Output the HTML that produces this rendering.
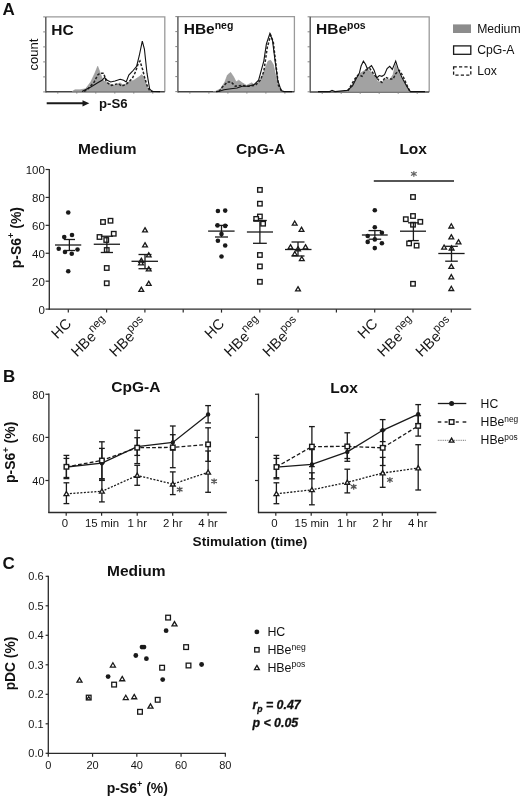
<!DOCTYPE html><html><head><meta charset="utf-8"><style>html,body{margin:0;padding:0;background:#fff;width:520px;height:799px;overflow:hidden}svg{display:block;font-family:"Liberation Sans", sans-serif;will-change:transform}</style></head><body>
<svg width="520" height="799" viewBox="0 0 520 799">
<rect width="520" height="799" fill="#fff"/>
<text x="2.5" y="15" font-size="17" font-weight="bold" text-anchor="start" fill="#111" >A</text>
<text x="2.9" y="381.9" font-size="17" font-weight="bold" text-anchor="start" fill="#111" >B</text>
<text x="2.5" y="568.9" font-size="17" font-weight="bold" text-anchor="start" fill="#111" >C</text>
<path d="M45.8 16.9 H164.8 V91.8" fill="none" stroke="#9a9a9a" stroke-width="1.3"/>
<line x1="45.8" y1="16.9" x2="45.8" y2="92.4" stroke="#555" stroke-width="1.4" />
<line x1="45.8" y1="91.8" x2="164.8" y2="91.8" stroke="#444" stroke-width="1.4" />
<line x1="43.2" y1="16.9" x2="45.8" y2="16.9" stroke="#777" stroke-width="0.9" />
<line x1="43.2" y1="31.9" x2="45.8" y2="31.9" stroke="#777" stroke-width="0.9" />
<line x1="43.2" y1="46.9" x2="45.8" y2="46.9" stroke="#777" stroke-width="0.9" />
<line x1="43.2" y1="61.9" x2="45.8" y2="61.9" stroke="#777" stroke-width="0.9" />
<line x1="43.2" y1="76.9" x2="45.8" y2="76.9" stroke="#777" stroke-width="0.9" />
<line x1="43.2" y1="91.9" x2="45.8" y2="91.9" stroke="#777" stroke-width="0.9" />
<line x1="57.8" y1="91.8" x2="57.8" y2="93.6" stroke="#777" stroke-width="0.9" />
<line x1="76.8" y1="91.8" x2="76.8" y2="93.6" stroke="#777" stroke-width="0.9" />
<line x1="95.8" y1="91.8" x2="95.8" y2="93.6" stroke="#777" stroke-width="0.9" />
<line x1="114.8" y1="91.8" x2="114.8" y2="93.6" stroke="#777" stroke-width="0.9" />
<line x1="133.8" y1="91.8" x2="133.8" y2="93.6" stroke="#777" stroke-width="0.9" />
<line x1="152.8" y1="91.8" x2="152.8" y2="93.6" stroke="#777" stroke-width="0.9" />
<polygon points="72,91.6 75,89.8 80,89.8 85.6,88.8 90.8,81.9 95,73 97.7,66.3 100.3,73.2 102.9,80.2 108,83.6 115,85.4 120,82.8 123.6,85.4 128.8,81.9 134,80.2 139.2,76.7 141.8,74.6 144.4,78.4 147,87 149.6,90.5 152,91.6" fill="#a2a2a2" stroke="#929292" stroke-width="0.6"/>
<polyline points="84,91.4 87.3,89.7 94.2,82 97.7,75 100.3,73.2 103.7,73.2 106.3,82 111.5,85.4 118.4,83.6 121.9,86.2 127,83.6 132.3,78.4 135.7,71.5 138.3,62.9 140,61 142.7,69.8 144.4,76.7 147,85.4 149.6,90.5 153,91.4" fill="none" stroke="#222" stroke-width="1.5" stroke-dasharray="2.6 1.7"/>
<polyline points="82,91.4 90.8,87 97.7,82.8 102,80.2 104.6,77.6 107.2,80.2 110.7,82 115,81 120.2,79.3 123.6,80.2 126.2,82 128.8,75 132.3,71.5 136.6,66.3 139.2,56 142.3,41.2 144.4,49 147,73.2 149.6,88.8 152,91.4 160,91.6" fill="none" stroke="#111" stroke-width="1.1"/>
<text x="51.2" y="35.1" font-size="15.5" font-weight="bold" text-anchor="start" fill="#111" >HC</text>
<path d="M177.9 16.6 H294.4 V91.8" fill="none" stroke="#9a9a9a" stroke-width="1.3"/>
<line x1="177.9" y1="16.6" x2="177.9" y2="92.4" stroke="#555" stroke-width="1.4" />
<line x1="177.9" y1="91.8" x2="294.4" y2="91.8" stroke="#444" stroke-width="1.4" />
<line x1="175.3" y1="16.6" x2="177.9" y2="16.6" stroke="#777" stroke-width="0.9" />
<line x1="175.3" y1="31.6" x2="177.9" y2="31.6" stroke="#777" stroke-width="0.9" />
<line x1="175.3" y1="46.6" x2="177.9" y2="46.6" stroke="#777" stroke-width="0.9" />
<line x1="175.3" y1="61.6" x2="177.9" y2="61.6" stroke="#777" stroke-width="0.9" />
<line x1="175.3" y1="76.6" x2="177.9" y2="76.6" stroke="#777" stroke-width="0.9" />
<line x1="175.3" y1="91.6" x2="177.9" y2="91.6" stroke="#777" stroke-width="0.9" />
<line x1="189.9" y1="91.8" x2="189.9" y2="93.6" stroke="#777" stroke-width="0.9" />
<line x1="208.9" y1="91.8" x2="208.9" y2="93.6" stroke="#777" stroke-width="0.9" />
<line x1="227.9" y1="91.8" x2="227.9" y2="93.6" stroke="#777" stroke-width="0.9" />
<line x1="246.9" y1="91.8" x2="246.9" y2="93.6" stroke="#777" stroke-width="0.9" />
<line x1="265.9" y1="91.8" x2="265.9" y2="93.6" stroke="#777" stroke-width="0.9" />
<line x1="284.9" y1="91.8" x2="284.9" y2="93.6" stroke="#777" stroke-width="0.9" />
<polygon points="213,91.6 215.4,91.4 220.6,88.8 224.9,81.9 227.5,75 230.6,72.4 233.5,76.7 236.1,81.9 238.7,80.2 242.2,82.8 246.5,85.4 251.7,82.8 255.2,85.4 258.6,81.9 262.1,76.7 265.6,67.2 268.1,61.1 270.7,60.3 273.3,64.6 275.9,76.7 278.5,87.1 281.1,91.4 283,91.6" fill="#a2a2a2" stroke="#929292" stroke-width="0.6"/>
<polyline points="219,91.4 222.3,87.1 227.5,81.9 231,81.9 235.3,86.2 241.3,85.4 248.3,86.2 255.2,85.4 260.4,80.2 263.8,71.5 267.3,47.3 270.7,35.2 273.3,42.1 275.9,64.6 278.5,85.4 282,91.4" fill="none" stroke="#222" stroke-width="1.5" stroke-dasharray="2.6 1.7"/>
<polyline points="216,91.6 218.8,91.4 224,89.7 231,88.8 237,88 242.2,86.2 248.3,86.2 254.3,84.5 258.6,80.2 261.2,70.7 263.8,61.1 266.4,43.8 269.9,33.5 272.5,40.4 275.1,61.1 277.7,80.2 281.1,90.5 284,91.6 292,91.6" fill="none" stroke="#111" stroke-width="1.1"/>
<text x="183.7" y="33.8" font-size="15.5" font-weight="bold" text-anchor="start" fill="#111" >HBe<tspan font-size="10.5" dy="-4.6">neg</tspan></text>
<path d="M310.2 16.8 H429.2 V92.0" fill="none" stroke="#9a9a9a" stroke-width="1.3"/>
<line x1="310.2" y1="16.8" x2="310.2" y2="92.6" stroke="#555" stroke-width="1.4" />
<line x1="310.2" y1="92" x2="429.2" y2="92" stroke="#444" stroke-width="1.4" />
<line x1="307.6" y1="16.8" x2="310.2" y2="16.8" stroke="#777" stroke-width="0.9" />
<line x1="307.6" y1="31.8" x2="310.2" y2="31.8" stroke="#777" stroke-width="0.9" />
<line x1="307.6" y1="46.8" x2="310.2" y2="46.8" stroke="#777" stroke-width="0.9" />
<line x1="307.6" y1="61.8" x2="310.2" y2="61.8" stroke="#777" stroke-width="0.9" />
<line x1="307.6" y1="76.8" x2="310.2" y2="76.8" stroke="#777" stroke-width="0.9" />
<line x1="307.6" y1="91.8" x2="310.2" y2="91.8" stroke="#777" stroke-width="0.9" />
<line x1="322.2" y1="92" x2="322.2" y2="93.8" stroke="#777" stroke-width="0.9" />
<line x1="341.2" y1="92" x2="341.2" y2="93.8" stroke="#777" stroke-width="0.9" />
<line x1="360.2" y1="92" x2="360.2" y2="93.8" stroke="#777" stroke-width="0.9" />
<line x1="379.2" y1="92" x2="379.2" y2="93.8" stroke="#777" stroke-width="0.9" />
<line x1="398.2" y1="92" x2="398.2" y2="93.8" stroke="#777" stroke-width="0.9" />
<line x1="417.2" y1="92" x2="417.2" y2="93.8" stroke="#777" stroke-width="0.9" />
<polygon points="328,91.8 331,90.6 334,91.6 340.4,91.6 347.3,90.2 351.6,86.7 356,78 359.4,73.7 363.7,71.1 367.2,68.5 370.7,72 374.1,75.5 377.6,81.5 381.9,82.4 385.4,78.9 389.7,79.8 393.1,74.6 395.4,64.2 397.5,70.3 400.9,77.2 406.1,85 409.6,91 411,91.8" fill="#a2a2a2" stroke="#929292" stroke-width="0.6"/>
<polyline points="348,90.8 350.8,85.8 354.2,79.8 358.5,74.6 362,76.3 365.5,70.3 369.8,68.5 374.1,74.6 378.4,79.8 381.9,82.4 385.4,77.2 389.7,79 393.1,79 395.7,73.7 399.2,70.3 402.7,75.5 406.1,83.3 409.6,91" fill="none" stroke="#222" stroke-width="1.5" stroke-dasharray="2.6 1.7"/>
<polyline points="318,91.6 330,91.6 332,90.4 335,91.6 347.3,90.4 352.5,85.8 356,79 359.4,72.9 361.1,66 363.4,61.1 365.5,64.2 367.2,68.5 368.9,67.7 371.5,65.6 374.1,70.3 376.7,78 379.3,75.5 381.9,76.3 384.5,74.6 387.1,68.5 389.7,66.3 392.3,69.4 395.7,61.1 398.3,69.4 401.8,77.2 407,86.7 410.4,91.6 425,91.6" fill="none" stroke="#111" stroke-width="1.1"/>
<text x="316" y="34" font-size="15.5" font-weight="bold" text-anchor="start" fill="#111" >HBe<tspan font-size="10.5" dy="-4.6">pos</tspan></text>
<text x="0" y="0" font-size="13" font-weight="normal" text-anchor="middle" fill="#111" transform="translate(38.2 54.6) rotate(-90)">count</text>
<line x1="46.7" y1="103.3" x2="84" y2="103.3" stroke="#1a1a1a" stroke-width="1.9" />
<path d="M82.5 100.2 L89.3 103.3 L82.5 106.4 Z" fill="#1a1a1a"/>
<text x="99" y="107.6" font-size="13.2" font-weight="bold" text-anchor="start" fill="#111" >p-S6</text>
<rect x="453" y="24.4" width="18" height="8.6" fill="#8c8c8c"/>
<rect x="453.6" y="45.9" width="17.2" height="8.4" fill="#fff" stroke="#1a1a1a" stroke-width="1.3"/>
<rect x="453.6" y="66.8" width="17.2" height="8.4" fill="#fff" stroke="#1a1a1a" stroke-width="1.3" stroke-dasharray="3.2 2.2"/>
<text x="477.2" y="32.6" font-size="12.2" font-weight="normal" text-anchor="start" fill="#111" >Medium</text>
<text x="477.2" y="54.2" font-size="12.2" font-weight="normal" text-anchor="start" fill="#111" >CpG-A</text>
<text x="477.2" y="75.2" font-size="12.2" font-weight="normal" text-anchor="start" fill="#111" >Lox</text>
<line x1="49.3" y1="169" x2="49.3" y2="309.7" stroke="#2a2a2a" stroke-width="1.3" />
<line x1="45.6" y1="309.1" x2="49.3" y2="309.1" stroke="#2a2a2a" stroke-width="1.2" />
<text x="44.9" y="313.5" font-size="11.5" font-weight="normal" text-anchor="end" fill="#161616" >0</text>
<line x1="45.6" y1="281.18" x2="49.3" y2="281.18" stroke="#2a2a2a" stroke-width="1.2" />
<text x="44.9" y="285.58" font-size="11.5" font-weight="normal" text-anchor="end" fill="#161616" >20</text>
<line x1="45.6" y1="253.26" x2="49.3" y2="253.26" stroke="#2a2a2a" stroke-width="1.2" />
<text x="44.9" y="257.66" font-size="11.5" font-weight="normal" text-anchor="end" fill="#161616" >40</text>
<line x1="45.6" y1="225.34" x2="49.3" y2="225.34" stroke="#2a2a2a" stroke-width="1.2" />
<text x="44.9" y="229.74" font-size="11.5" font-weight="normal" text-anchor="end" fill="#161616" >60</text>
<line x1="45.6" y1="197.42" x2="49.3" y2="197.42" stroke="#2a2a2a" stroke-width="1.2" />
<text x="44.9" y="201.82" font-size="11.5" font-weight="normal" text-anchor="end" fill="#161616" >80</text>
<line x1="45.6" y1="169.5" x2="49.3" y2="169.5" stroke="#2a2a2a" stroke-width="1.2" />
<text x="44.9" y="173.9" font-size="11.5" font-weight="normal" text-anchor="end" fill="#161616" >100</text>
<line x1="48.7" y1="309.2" x2="471.2" y2="309.2" stroke="#2a2a2a" stroke-width="1.3" />
<line x1="68.3" y1="309.2" x2="68.3" y2="312.6" stroke="#2a2a2a" stroke-width="1.2" />
<line x1="106.6" y1="309.2" x2="106.6" y2="312.6" stroke="#2a2a2a" stroke-width="1.2" />
<line x1="144.9" y1="309.2" x2="144.9" y2="312.6" stroke="#2a2a2a" stroke-width="1.2" />
<line x1="183.2" y1="309.2" x2="183.2" y2="312.6" stroke="#2a2a2a" stroke-width="1.2" />
<line x1="221.5" y1="309.2" x2="221.5" y2="312.6" stroke="#2a2a2a" stroke-width="1.2" />
<line x1="259.8" y1="309.2" x2="259.8" y2="312.6" stroke="#2a2a2a" stroke-width="1.2" />
<line x1="298.1" y1="309.2" x2="298.1" y2="312.6" stroke="#2a2a2a" stroke-width="1.2" />
<line x1="336.4" y1="309.2" x2="336.4" y2="312.6" stroke="#2a2a2a" stroke-width="1.2" />
<line x1="374.7" y1="309.2" x2="374.7" y2="312.6" stroke="#2a2a2a" stroke-width="1.2" />
<line x1="413" y1="309.2" x2="413" y2="312.6" stroke="#2a2a2a" stroke-width="1.2" />
<line x1="451.3" y1="309.2" x2="451.3" y2="312.6" stroke="#2a2a2a" stroke-width="1.2" />
<text x="0" y="0" font-size="14.6" font-weight="normal" text-anchor="start" fill="#161616" transform="translate(57.2 339.4) rotate(-45)">HC</text>
<text x="0" y="0" font-size="14.6" font-weight="normal" text-anchor="start" fill="#161616" transform="translate(76.9 357.6) rotate(-45)">HBe<tspan font-size="11.4" dy="-6.5">neg</tspan></text>
<text x="0" y="0" font-size="14.6" font-weight="normal" text-anchor="start" fill="#161616" transform="translate(115.2 357.6) rotate(-45)">HBe<tspan font-size="11.4" dy="-6.5">pos</tspan></text>
<text x="0" y="0" font-size="14.6" font-weight="normal" text-anchor="start" fill="#161616" transform="translate(210.4 339.4) rotate(-45)">HC</text>
<text x="0" y="0" font-size="14.6" font-weight="normal" text-anchor="start" fill="#161616" transform="translate(230.1 357.6) rotate(-45)">HBe<tspan font-size="11.4" dy="-6.5">neg</tspan></text>
<text x="0" y="0" font-size="14.6" font-weight="normal" text-anchor="start" fill="#161616" transform="translate(268.4 357.6) rotate(-45)">HBe<tspan font-size="11.4" dy="-6.5">pos</tspan></text>
<text x="0" y="0" font-size="14.6" font-weight="normal" text-anchor="start" fill="#161616" transform="translate(363.6 339.4) rotate(-45)">HC</text>
<text x="0" y="0" font-size="14.6" font-weight="normal" text-anchor="start" fill="#161616" transform="translate(383.3 357.6) rotate(-45)">HBe<tspan font-size="11.4" dy="-6.5">neg</tspan></text>
<text x="0" y="0" font-size="14.6" font-weight="normal" text-anchor="start" fill="#161616" transform="translate(421.6 357.6) rotate(-45)">HBe<tspan font-size="11.4" dy="-6.5">pos</tspan></text>
<text x="0" y="0" font-size="14" font-weight="bold" text-anchor="middle" fill="#111" transform="translate(20.7 237.6) rotate(-90)">p-S6<tspan font-size="9" dy="-6.6">+</tspan><tspan dy="6.6"> (%)</tspan></text>
<text x="107.2" y="154.4" font-size="15.5" font-weight="bold" text-anchor="middle" fill="#111" >Medium</text>
<text x="260.6" y="154.4" font-size="15.5" font-weight="bold" text-anchor="middle" fill="#111" >CpG-A</text>
<text x="413.2" y="154.4" font-size="15.5" font-weight="bold" text-anchor="middle" fill="#111" >Lox</text>
<line x1="373.8" y1="181" x2="454" y2="181" stroke="#1e1e1e" stroke-width="1.3" />
<path d="M413.85 176.28L413.85 171.52M411.43 175.3L416.27 172.5M411.43 172.5L416.27 175.3" stroke="#666" stroke-width="1.25" stroke-linecap="round" fill="none"/>
<circle cx="68.25" cy="212.5" r="2.3" fill="#1a1a1a"/>
<circle cx="64.25" cy="237" r="2.3" fill="#1a1a1a"/>
<circle cx="72" cy="235" r="2.3" fill="#1a1a1a"/>
<circle cx="58.75" cy="248.75" r="2.3" fill="#1a1a1a"/>
<circle cx="65" cy="252" r="2.3" fill="#1a1a1a"/>
<circle cx="71.75" cy="253.75" r="2.3" fill="#1a1a1a"/>
<circle cx="77.5" cy="249.5" r="2.3" fill="#1a1a1a"/>
<circle cx="68.25" cy="271.25" r="2.3" fill="#1a1a1a"/>
<line x1="55" y1="245" x2="81.25" y2="245" stroke="#1a1a1a" stroke-width="1.3" />
<line x1="69.38" y1="239.5" x2="69.38" y2="250.5" stroke="#1a1a1a" stroke-width="1.3" />
<line x1="63.75" y1="239.5" x2="75" y2="239.5" stroke="#1a1a1a" stroke-width="1.3" />
<line x1="63.75" y1="250.5" x2="75" y2="250.5" stroke="#1a1a1a" stroke-width="1.3" />
<rect x="100.75" y="219.75" width="4.5" height="4.5" fill="#fff" stroke="#1a1a1a" stroke-width="1.35"/>
<rect x="108.25" y="218.5" width="4.5" height="4.5" fill="#fff" stroke="#1a1a1a" stroke-width="1.35"/>
<rect x="97.25" y="234.75" width="4.5" height="4.5" fill="#fff" stroke="#1a1a1a" stroke-width="1.35"/>
<rect x="111.5" y="231.5" width="4.5" height="4.5" fill="#fff" stroke="#1a1a1a" stroke-width="1.35"/>
<rect x="104" y="237.75" width="4.5" height="4.5" fill="#fff" stroke="#1a1a1a" stroke-width="1.35"/>
<rect x="104.5" y="247.75" width="4.5" height="4.5" fill="#fff" stroke="#1a1a1a" stroke-width="1.35"/>
<rect x="104.5" y="265.75" width="4.5" height="4.5" fill="#fff" stroke="#1a1a1a" stroke-width="1.35"/>
<rect x="104.5" y="281" width="4.5" height="4.5" fill="#fff" stroke="#1a1a1a" stroke-width="1.35"/>
<line x1="93.75" y1="244.25" x2="120" y2="244.25" stroke="#1a1a1a" stroke-width="1.3" />
<line x1="106.88" y1="236.25" x2="106.88" y2="252.5" stroke="#1a1a1a" stroke-width="1.3" />
<line x1="100.75" y1="236.25" x2="113" y2="236.25" stroke="#1a1a1a" stroke-width="1.3" />
<line x1="100.75" y1="252.5" x2="113" y2="252.5" stroke="#1a1a1a" stroke-width="1.3" />
<path d="M145 227.69 L147.4 231.89 L142.6 231.89 Z" fill="#fff" stroke="#1a1a1a" stroke-width="1.3" stroke-linejoin="miter"/>
<path d="M145 242.69 L147.4 246.89 L142.6 246.89 Z" fill="#fff" stroke="#1a1a1a" stroke-width="1.3" stroke-linejoin="miter"/>
<path d="M148.7 252.69 L151.1 256.89 L146.3 256.89 Z" fill="#fff" stroke="#1a1a1a" stroke-width="1.3" stroke-linejoin="miter"/>
<path d="M141.3 258.19 L143.7 262.39 L138.9 262.39 Z" fill="#fff" stroke="#1a1a1a" stroke-width="1.3" stroke-linejoin="miter"/>
<path d="M141 260.69 L143.4 264.89 L138.6 264.89 Z" fill="#fff" stroke="#1a1a1a" stroke-width="1.3" stroke-linejoin="miter"/>
<path d="M148.7 266.69 L151.1 270.89 L146.3 270.89 Z" fill="#fff" stroke="#1a1a1a" stroke-width="1.3" stroke-linejoin="miter"/>
<path d="M148.7 281.19 L151.1 285.39 L146.3 285.39 Z" fill="#fff" stroke="#1a1a1a" stroke-width="1.3" stroke-linejoin="miter"/>
<path d="M141.3 287.19 L143.7 291.39 L138.9 291.39 Z" fill="#fff" stroke="#1a1a1a" stroke-width="1.3" stroke-linejoin="miter"/>
<line x1="131.5" y1="261.3" x2="158" y2="261.3" stroke="#1a1a1a" stroke-width="1.3" />
<line x1="145" y1="254.5" x2="145" y2="268.7" stroke="#1a1a1a" stroke-width="1.3" />
<line x1="138.5" y1="254.5" x2="151.5" y2="254.5" stroke="#1a1a1a" stroke-width="1.3" />
<line x1="138.5" y1="268.7" x2="151.5" y2="268.7" stroke="#1a1a1a" stroke-width="1.3" />
<circle cx="217.9" cy="211" r="2.3" fill="#1a1a1a"/>
<circle cx="225.2" cy="210.6" r="2.3" fill="#1a1a1a"/>
<circle cx="217.5" cy="225.4" r="2.3" fill="#1a1a1a"/>
<circle cx="225.2" cy="225.9" r="2.3" fill="#1a1a1a"/>
<circle cx="221.5" cy="234.1" r="2.3" fill="#1a1a1a"/>
<circle cx="217.9" cy="240.7" r="2.3" fill="#1a1a1a"/>
<circle cx="225.2" cy="245.5" r="2.3" fill="#1a1a1a"/>
<circle cx="221.5" cy="256.5" r="2.3" fill="#1a1a1a"/>
<line x1="208.1" y1="231.1" x2="234.6" y2="231.1" stroke="#1a1a1a" stroke-width="1.3" />
<line x1="221.5" y1="225.4" x2="221.5" y2="237" stroke="#1a1a1a" stroke-width="1.3" />
<line x1="215" y1="225.4" x2="228" y2="225.4" stroke="#1a1a1a" stroke-width="1.3" />
<line x1="215" y1="237" x2="228" y2="237" stroke="#1a1a1a" stroke-width="1.3" />
<rect x="257.65" y="187.65" width="4.5" height="4.5" fill="#fff" stroke="#1a1a1a" stroke-width="1.35"/>
<rect x="257.65" y="201.45" width="4.5" height="4.5" fill="#fff" stroke="#1a1a1a" stroke-width="1.35"/>
<rect x="257.65" y="214.25" width="4.5" height="4.5" fill="#fff" stroke="#1a1a1a" stroke-width="1.35"/>
<rect x="253.95" y="216.65" width="4.5" height="4.5" fill="#fff" stroke="#1a1a1a" stroke-width="1.35"/>
<rect x="260.85" y="221.45" width="4.5" height="4.5" fill="#fff" stroke="#1a1a1a" stroke-width="1.35"/>
<rect x="257.65" y="252.75" width="4.5" height="4.5" fill="#fff" stroke="#1a1a1a" stroke-width="1.35"/>
<rect x="257.65" y="264.15" width="4.5" height="4.5" fill="#fff" stroke="#1a1a1a" stroke-width="1.35"/>
<rect x="257.65" y="279.55" width="4.5" height="4.5" fill="#fff" stroke="#1a1a1a" stroke-width="1.35"/>
<line x1="246.9" y1="232" x2="273" y2="232" stroke="#1a1a1a" stroke-width="1.3" />
<line x1="259.9" y1="220.5" x2="259.9" y2="243.3" stroke="#1a1a1a" stroke-width="1.3" />
<line x1="253" y1="220.5" x2="266.8" y2="220.5" stroke="#1a1a1a" stroke-width="1.3" />
<line x1="253" y1="243.3" x2="266.8" y2="243.3" stroke="#1a1a1a" stroke-width="1.3" />
<path d="M294.7 220.99 L297.1 225.19 L292.3 225.19 Z" fill="#fff" stroke="#1a1a1a" stroke-width="1.3" stroke-linejoin="miter"/>
<path d="M301.5 227.19 L303.9 231.39 L299.1 231.39 Z" fill="#fff" stroke="#1a1a1a" stroke-width="1.3" stroke-linejoin="miter"/>
<path d="M290.5 244.69 L292.9 248.89 L288.1 248.89 Z" fill="#fff" stroke="#1a1a1a" stroke-width="1.3" stroke-linejoin="miter"/>
<path d="M298 246.69 L300.4 250.89 L295.6 250.89 Z" fill="#fff" stroke="#1a1a1a" stroke-width="1.3" stroke-linejoin="miter"/>
<path d="M305.5 244.69 L307.9 248.89 L303.1 248.89 Z" fill="#fff" stroke="#1a1a1a" stroke-width="1.3" stroke-linejoin="miter"/>
<path d="M294.8 251.49 L297.2 255.69 L292.4 255.69 Z" fill="#fff" stroke="#1a1a1a" stroke-width="1.3" stroke-linejoin="miter"/>
<path d="M301.8 256.49 L304.2 260.69 L299.4 260.69 Z" fill="#fff" stroke="#1a1a1a" stroke-width="1.3" stroke-linejoin="miter"/>
<path d="M298 286.69 L300.4 290.89 L295.6 290.89 Z" fill="#fff" stroke="#1a1a1a" stroke-width="1.3" stroke-linejoin="miter"/>
<line x1="285" y1="249.5" x2="311.5" y2="249.5" stroke="#1a1a1a" stroke-width="1.3" />
<line x1="298" y1="242" x2="298" y2="256" stroke="#1a1a1a" stroke-width="1.3" />
<line x1="291.5" y1="242" x2="304.5" y2="242" stroke="#1a1a1a" stroke-width="1.3" />
<line x1="291.5" y1="256" x2="304.5" y2="256" stroke="#1a1a1a" stroke-width="1.3" />
<circle cx="374.8" cy="210.2" r="2.3" fill="#1a1a1a"/>
<circle cx="374.8" cy="227.3" r="2.3" fill="#1a1a1a"/>
<circle cx="381.9" cy="232.7" r="2.3" fill="#1a1a1a"/>
<circle cx="367.7" cy="236" r="2.3" fill="#1a1a1a"/>
<circle cx="374.8" cy="239.4" r="2.3" fill="#1a1a1a"/>
<circle cx="367.7" cy="241.9" r="2.3" fill="#1a1a1a"/>
<circle cx="381.9" cy="243.2" r="2.3" fill="#1a1a1a"/>
<circle cx="374.8" cy="248.1" r="2.3" fill="#1a1a1a"/>
<line x1="361.9" y1="235" x2="387.7" y2="235" stroke="#1a1a1a" stroke-width="1.3" />
<line x1="374.85" y1="230.6" x2="374.85" y2="239.2" stroke="#1a1a1a" stroke-width="1.3" />
<line x1="368.5" y1="230.6" x2="381.2" y2="230.6" stroke="#1a1a1a" stroke-width="1.3" />
<line x1="368.5" y1="239.2" x2="381.2" y2="239.2" stroke="#1a1a1a" stroke-width="1.3" />
<rect x="410.75" y="194.75" width="4.5" height="4.5" fill="#fff" stroke="#1a1a1a" stroke-width="1.35"/>
<rect x="410.75" y="213.75" width="4.5" height="4.5" fill="#fff" stroke="#1a1a1a" stroke-width="1.35"/>
<rect x="403.55" y="216.95" width="4.5" height="4.5" fill="#fff" stroke="#1a1a1a" stroke-width="1.35"/>
<rect x="418.05" y="219.55" width="4.5" height="4.5" fill="#fff" stroke="#1a1a1a" stroke-width="1.35"/>
<rect x="410.75" y="222.45" width="4.5" height="4.5" fill="#fff" stroke="#1a1a1a" stroke-width="1.35"/>
<rect x="406.85" y="241.15" width="4.5" height="4.5" fill="#fff" stroke="#1a1a1a" stroke-width="1.35"/>
<rect x="414.35" y="243.35" width="4.5" height="4.5" fill="#fff" stroke="#1a1a1a" stroke-width="1.35"/>
<rect x="410.75" y="281.55" width="4.5" height="4.5" fill="#fff" stroke="#1a1a1a" stroke-width="1.35"/>
<line x1="400" y1="231.2" x2="426" y2="231.2" stroke="#1a1a1a" stroke-width="1.3" />
<line x1="413.4" y1="222.8" x2="413.4" y2="240.6" stroke="#1a1a1a" stroke-width="1.3" />
<line x1="408" y1="222.8" x2="418.8" y2="222.8" stroke="#1a1a1a" stroke-width="1.3" />
<line x1="408" y1="240.6" x2="418.8" y2="240.6" stroke="#1a1a1a" stroke-width="1.3" />
<path d="M451.3 223.79 L453.7 227.99 L448.9 227.99 Z" fill="#fff" stroke="#1a1a1a" stroke-width="1.3" stroke-linejoin="miter"/>
<path d="M451.3 234.69 L453.7 238.89 L448.9 238.89 Z" fill="#fff" stroke="#1a1a1a" stroke-width="1.3" stroke-linejoin="miter"/>
<path d="M458.5 239.69 L460.9 243.89 L456.1 243.89 Z" fill="#fff" stroke="#1a1a1a" stroke-width="1.3" stroke-linejoin="miter"/>
<path d="M444.1 244.99 L446.5 249.19 L441.7 249.19 Z" fill="#fff" stroke="#1a1a1a" stroke-width="1.3" stroke-linejoin="miter"/>
<path d="M451.6 245.79 L454 249.99 L449.2 249.99 Z" fill="#fff" stroke="#1a1a1a" stroke-width="1.3" stroke-linejoin="miter"/>
<path d="M451.3 264.19 L453.7 268.39 L448.9 268.39 Z" fill="#fff" stroke="#1a1a1a" stroke-width="1.3" stroke-linejoin="miter"/>
<path d="M451.3 274.59 L453.7 278.79 L448.9 278.79 Z" fill="#fff" stroke="#1a1a1a" stroke-width="1.3" stroke-linejoin="miter"/>
<path d="M451.3 286.29 L453.7 290.49 L448.9 290.49 Z" fill="#fff" stroke="#1a1a1a" stroke-width="1.3" stroke-linejoin="miter"/>
<line x1="438.3" y1="253.5" x2="464.6" y2="253.5" stroke="#1a1a1a" stroke-width="1.3" />
<line x1="451.5" y1="246.3" x2="451.5" y2="261.2" stroke="#1a1a1a" stroke-width="1.3" />
<line x1="445.2" y1="246.3" x2="457.8" y2="246.3" stroke="#1a1a1a" stroke-width="1.3" />
<line x1="445.2" y1="261.2" x2="457.8" y2="261.2" stroke="#1a1a1a" stroke-width="1.3" />
<line x1="48.9" y1="393.6" x2="48.9" y2="513.1" stroke="#2a2a2a" stroke-width="1.3" />
<line x1="48.3" y1="512.5" x2="226.8" y2="512.5" stroke="#2a2a2a" stroke-width="1.3" />
<line x1="45.4" y1="480.5" x2="48.9" y2="480.5" stroke="#2a2a2a" stroke-width="1.2" />
<text x="44.6" y="484.8" font-size="11" font-weight="normal" text-anchor="end" fill="#161616" >40</text>
<line x1="45.4" y1="437.38" x2="48.9" y2="437.38" stroke="#2a2a2a" stroke-width="1.2" />
<text x="44.6" y="441.68" font-size="11" font-weight="normal" text-anchor="end" fill="#161616" >60</text>
<line x1="45.4" y1="394.26" x2="48.9" y2="394.26" stroke="#2a2a2a" stroke-width="1.2" />
<text x="44.6" y="398.56" font-size="11" font-weight="normal" text-anchor="end" fill="#161616" >80</text>
<line x1="66.2" y1="512.5" x2="66.2" y2="515.8" stroke="#2a2a2a" stroke-width="1.2" />
<text x="64.9" y="526.9" font-size="11.4" font-weight="normal" text-anchor="middle" fill="#161616" >0</text>
<line x1="101.6" y1="512.5" x2="101.6" y2="515.8" stroke="#2a2a2a" stroke-width="1.2" />
<text x="102.1" y="526.9" font-size="11.4" font-weight="normal" text-anchor="middle" fill="#161616" >15 min</text>
<line x1="137.2" y1="512.5" x2="137.2" y2="515.8" stroke="#2a2a2a" stroke-width="1.2" />
<text x="137.2" y="526.9" font-size="11.4" font-weight="normal" text-anchor="middle" fill="#161616" >1 hr</text>
<line x1="172.7" y1="512.5" x2="172.7" y2="515.8" stroke="#2a2a2a" stroke-width="1.2" />
<text x="172.7" y="526.9" font-size="11.4" font-weight="normal" text-anchor="middle" fill="#161616" >2 hr</text>
<line x1="208.1" y1="512.5" x2="208.1" y2="515.8" stroke="#2a2a2a" stroke-width="1.2" />
<text x="208.1" y="526.9" font-size="11.4" font-weight="normal" text-anchor="middle" fill="#161616" >4 hr</text>
<line x1="258.5" y1="393.6" x2="258.5" y2="513.1" stroke="#2a2a2a" stroke-width="1.3" />
<line x1="257.9" y1="512.5" x2="436.4" y2="512.5" stroke="#2a2a2a" stroke-width="1.3" />
<line x1="255" y1="480.5" x2="258.5" y2="480.5" stroke="#2a2a2a" stroke-width="1.2" />
<line x1="255" y1="437.38" x2="258.5" y2="437.38" stroke="#2a2a2a" stroke-width="1.2" />
<line x1="255" y1="394.26" x2="258.5" y2="394.26" stroke="#2a2a2a" stroke-width="1.2" />
<line x1="275.8" y1="512.5" x2="275.8" y2="515.8" stroke="#2a2a2a" stroke-width="1.2" />
<text x="274.5" y="526.9" font-size="11.4" font-weight="normal" text-anchor="middle" fill="#161616" >0</text>
<line x1="311.2" y1="512.5" x2="311.2" y2="515.8" stroke="#2a2a2a" stroke-width="1.2" />
<text x="311.7" y="526.9" font-size="11.4" font-weight="normal" text-anchor="middle" fill="#161616" >15 min</text>
<line x1="346.8" y1="512.5" x2="346.8" y2="515.8" stroke="#2a2a2a" stroke-width="1.2" />
<text x="346.8" y="526.9" font-size="11.4" font-weight="normal" text-anchor="middle" fill="#161616" >1 hr</text>
<line x1="382.3" y1="512.5" x2="382.3" y2="515.8" stroke="#2a2a2a" stroke-width="1.2" />
<text x="382.3" y="526.9" font-size="11.4" font-weight="normal" text-anchor="middle" fill="#161616" >2 hr</text>
<line x1="417.7" y1="512.5" x2="417.7" y2="515.8" stroke="#2a2a2a" stroke-width="1.2" />
<text x="417.7" y="526.9" font-size="11.4" font-weight="normal" text-anchor="middle" fill="#161616" >4 hr</text>
<text x="135.8" y="392" font-size="15.5" font-weight="bold" text-anchor="middle" fill="#111" >CpG-A</text>
<text x="344.1" y="392.6" font-size="15.5" font-weight="bold" text-anchor="middle" fill="#111" >Lox</text>
<text x="192.6" y="546.3" font-size="13.6" font-weight="bold" text-anchor="start" fill="#111" >Stimulation (time)</text>
<text x="0" y="0" font-size="14" font-weight="bold" text-anchor="middle" fill="#111" transform="translate(15.4 452.3) rotate(-90)">p-S6<tspan font-size="9" dy="-6.6">+</tspan><tspan dy="6.6"> (%)</tspan></text>
<line x1="66.4" y1="455.4" x2="66.4" y2="478.6" stroke="#1a1a1a" stroke-width="1.3" />
<line x1="63.5" y1="455.4" x2="69.3" y2="455.4" stroke="#1a1a1a" stroke-width="1.3" />
<line x1="63.5" y1="478.6" x2="69.3" y2="478.6" stroke="#1a1a1a" stroke-width="1.3" />
<line x1="66.4" y1="458.4" x2="66.4" y2="477.5" stroke="#1a1a1a" stroke-width="1.3" />
<line x1="63.5" y1="458.4" x2="69.3" y2="458.4" stroke="#1a1a1a" stroke-width="1.3" />
<line x1="63.5" y1="477.5" x2="69.3" y2="477.5" stroke="#1a1a1a" stroke-width="1.3" />
<line x1="66.4" y1="482.8" x2="66.4" y2="503.6" stroke="#1a1a1a" stroke-width="1.3" />
<line x1="63.5" y1="482.8" x2="69.3" y2="482.8" stroke="#1a1a1a" stroke-width="1.3" />
<line x1="63.5" y1="503.6" x2="69.3" y2="503.6" stroke="#1a1a1a" stroke-width="1.3" />
<line x1="101.9" y1="441.8" x2="101.9" y2="480" stroke="#1a1a1a" stroke-width="1.3" />
<line x1="99" y1="441.8" x2="104.8" y2="441.8" stroke="#1a1a1a" stroke-width="1.3" />
<line x1="99" y1="480" x2="104.8" y2="480" stroke="#1a1a1a" stroke-width="1.3" />
<line x1="101.9" y1="448.4" x2="101.9" y2="478.7" stroke="#1a1a1a" stroke-width="1.3" />
<line x1="99" y1="448.4" x2="104.8" y2="448.4" stroke="#1a1a1a" stroke-width="1.3" />
<line x1="99" y1="478.7" x2="104.8" y2="478.7" stroke="#1a1a1a" stroke-width="1.3" />
<line x1="101.9" y1="480.4" x2="101.9" y2="501.9" stroke="#1a1a1a" stroke-width="1.3" />
<line x1="99" y1="480.4" x2="104.8" y2="480.4" stroke="#1a1a1a" stroke-width="1.3" />
<line x1="99" y1="501.9" x2="104.8" y2="501.9" stroke="#1a1a1a" stroke-width="1.3" />
<line x1="137.2" y1="430.3" x2="137.2" y2="463.6" stroke="#1a1a1a" stroke-width="1.3" />
<line x1="134.3" y1="430.3" x2="140.1" y2="430.3" stroke="#1a1a1a" stroke-width="1.3" />
<line x1="134.3" y1="463.6" x2="140.1" y2="463.6" stroke="#1a1a1a" stroke-width="1.3" />
<line x1="137.2" y1="437.7" x2="137.2" y2="455.4" stroke="#1a1a1a" stroke-width="1.3" />
<line x1="134.3" y1="437.7" x2="140.1" y2="437.7" stroke="#1a1a1a" stroke-width="1.3" />
<line x1="134.3" y1="455.4" x2="140.1" y2="455.4" stroke="#1a1a1a" stroke-width="1.3" />
<line x1="137.2" y1="465.3" x2="137.2" y2="485.3" stroke="#1a1a1a" stroke-width="1.3" />
<line x1="134.3" y1="465.3" x2="140.1" y2="465.3" stroke="#1a1a1a" stroke-width="1.3" />
<line x1="134.3" y1="485.3" x2="140.1" y2="485.3" stroke="#1a1a1a" stroke-width="1.3" />
<line x1="172.8" y1="426" x2="172.8" y2="467.7" stroke="#1a1a1a" stroke-width="1.3" />
<line x1="169.9" y1="426" x2="175.7" y2="426" stroke="#1a1a1a" stroke-width="1.3" />
<line x1="169.9" y1="467.7" x2="175.7" y2="467.7" stroke="#1a1a1a" stroke-width="1.3" />
<line x1="172.8" y1="434.7" x2="172.8" y2="450.1" stroke="#1a1a1a" stroke-width="1.3" />
<line x1="169.9" y1="434.7" x2="175.7" y2="434.7" stroke="#1a1a1a" stroke-width="1.3" />
<line x1="169.9" y1="450.1" x2="175.7" y2="450.1" stroke="#1a1a1a" stroke-width="1.3" />
<line x1="172.8" y1="471.9" x2="172.8" y2="494.6" stroke="#1a1a1a" stroke-width="1.3" />
<line x1="169.9" y1="471.9" x2="175.7" y2="471.9" stroke="#1a1a1a" stroke-width="1.3" />
<line x1="169.9" y1="494.6" x2="175.7" y2="494.6" stroke="#1a1a1a" stroke-width="1.3" />
<line x1="208.1" y1="405.6" x2="208.1" y2="422.9" stroke="#1a1a1a" stroke-width="1.3" />
<line x1="205.2" y1="405.6" x2="211" y2="405.6" stroke="#1a1a1a" stroke-width="1.3" />
<line x1="205.2" y1="422.9" x2="211" y2="422.9" stroke="#1a1a1a" stroke-width="1.3" />
<line x1="208.1" y1="427.8" x2="208.1" y2="461.3" stroke="#1a1a1a" stroke-width="1.3" />
<line x1="205.2" y1="427.8" x2="211" y2="427.8" stroke="#1a1a1a" stroke-width="1.3" />
<line x1="205.2" y1="461.3" x2="211" y2="461.3" stroke="#1a1a1a" stroke-width="1.3" />
<line x1="208.1" y1="451" x2="208.1" y2="492.3" stroke="#1a1a1a" stroke-width="1.3" />
<line x1="205.2" y1="451" x2="211" y2="451" stroke="#1a1a1a" stroke-width="1.3" />
<line x1="205.2" y1="492.3" x2="211" y2="492.3" stroke="#1a1a1a" stroke-width="1.3" />
<polyline points="66.4,493.8 101.9,491.3 137.2,475.4 172.8,484.1 208.1,472.3" fill="none" stroke="#1a1a1a" stroke-width="1.3" stroke-dasharray="2 1.5"/>
<polyline points="66.4,466.8 101.9,460.5 137.2,447.7 172.8,447.4 208.1,444.4" fill="none" stroke="#1a1a1a" stroke-width="1.3" stroke-dasharray="3.8 2.1"/>
<polyline points="66.4,467 101.9,463.2 137.2,446.6 172.8,442.4 208.1,414.4" fill="none" stroke="#1a1a1a" stroke-width="1.3" />
<circle cx="66.4" cy="467" r="2.2" fill="#1a1a1a"/>
<circle cx="101.9" cy="463.2" r="2.2" fill="#1a1a1a"/>
<circle cx="137.2" cy="446.6" r="2.2" fill="#1a1a1a"/>
<circle cx="172.8" cy="442.4" r="2.2" fill="#1a1a1a"/>
<circle cx="208.1" cy="414.4" r="2.2" fill="#1a1a1a"/>
<rect x="64.15" y="464.55" width="4.5" height="4.5" fill="#fff" stroke="#1a1a1a" stroke-width="1.4"/>
<rect x="99.65" y="458.25" width="4.5" height="4.5" fill="#fff" stroke="#1a1a1a" stroke-width="1.4"/>
<rect x="134.95" y="445.45" width="4.5" height="4.5" fill="#fff" stroke="#1a1a1a" stroke-width="1.4"/>
<rect x="170.55" y="445.15" width="4.5" height="4.5" fill="#fff" stroke="#1a1a1a" stroke-width="1.4"/>
<rect x="205.85" y="442.15" width="4.5" height="4.5" fill="#fff" stroke="#1a1a1a" stroke-width="1.4"/>
<path d="M66.4 491.49 L68.8 495.69 L64 495.69 Z" fill="#fff" stroke="#1a1a1a" stroke-width="1.35" stroke-linejoin="miter"/>
<path d="M101.9 488.99 L104.3 493.19 L99.5 493.19 Z" fill="#fff" stroke="#1a1a1a" stroke-width="1.35" stroke-linejoin="miter"/>
<path d="M137.2 473.09 L139.6 477.29 L134.8 477.29 Z" fill="#fff" stroke="#1a1a1a" stroke-width="1.35" stroke-linejoin="miter"/>
<path d="M172.8 481.79 L175.2 485.99 L170.4 485.99 Z" fill="#fff" stroke="#1a1a1a" stroke-width="1.35" stroke-linejoin="miter"/>
<path d="M208.1 469.99 L210.5 474.19 L205.7 474.19 Z" fill="#fff" stroke="#1a1a1a" stroke-width="1.35" stroke-linejoin="miter"/>
<path d="M179.7 491.84L179.7 487.16M177.32 490.88L182.08 488.12M177.32 488.12L182.08 490.88" stroke="#555" stroke-width="1.3" stroke-linecap="round" fill="none"/>
<path d="M214.1 483.64L214.1 478.96M211.72 482.68L216.48 479.93M211.72 479.93L216.48 482.68" stroke="#555" stroke-width="1.3" stroke-linecap="round" fill="none"/>
<line x1="276.4" y1="455.4" x2="276.4" y2="478.8" stroke="#1a1a1a" stroke-width="1.3" />
<line x1="273.5" y1="455.4" x2="279.3" y2="455.4" stroke="#1a1a1a" stroke-width="1.3" />
<line x1="273.5" y1="478.8" x2="279.3" y2="478.8" stroke="#1a1a1a" stroke-width="1.3" />
<line x1="276.4" y1="458.4" x2="276.4" y2="477.7" stroke="#1a1a1a" stroke-width="1.3" />
<line x1="273.5" y1="458.4" x2="279.3" y2="458.4" stroke="#1a1a1a" stroke-width="1.3" />
<line x1="273.5" y1="477.7" x2="279.3" y2="477.7" stroke="#1a1a1a" stroke-width="1.3" />
<line x1="276.4" y1="482.8" x2="276.4" y2="503.7" stroke="#1a1a1a" stroke-width="1.3" />
<line x1="273.5" y1="482.8" x2="279.3" y2="482.8" stroke="#1a1a1a" stroke-width="1.3" />
<line x1="273.5" y1="503.7" x2="279.3" y2="503.7" stroke="#1a1a1a" stroke-width="1.3" />
<line x1="311.9" y1="426.6" x2="311.9" y2="466.6" stroke="#1a1a1a" stroke-width="1.3" />
<line x1="309" y1="426.6" x2="314.8" y2="426.6" stroke="#1a1a1a" stroke-width="1.3" />
<line x1="309" y1="466.6" x2="314.8" y2="466.6" stroke="#1a1a1a" stroke-width="1.3" />
<line x1="311.9" y1="449.6" x2="311.9" y2="478.8" stroke="#1a1a1a" stroke-width="1.3" />
<line x1="309" y1="449.6" x2="314.8" y2="449.6" stroke="#1a1a1a" stroke-width="1.3" />
<line x1="309" y1="478.8" x2="314.8" y2="478.8" stroke="#1a1a1a" stroke-width="1.3" />
<line x1="311.9" y1="472.8" x2="311.9" y2="504.8" stroke="#1a1a1a" stroke-width="1.3" />
<line x1="309" y1="472.8" x2="314.8" y2="472.8" stroke="#1a1a1a" stroke-width="1.3" />
<line x1="309" y1="504.8" x2="314.8" y2="504.8" stroke="#1a1a1a" stroke-width="1.3" />
<line x1="347.3" y1="432.8" x2="347.3" y2="461.3" stroke="#1a1a1a" stroke-width="1.3" />
<line x1="344.4" y1="432.8" x2="350.2" y2="432.8" stroke="#1a1a1a" stroke-width="1.3" />
<line x1="344.4" y1="461.3" x2="350.2" y2="461.3" stroke="#1a1a1a" stroke-width="1.3" />
<line x1="347.3" y1="445.5" x2="347.3" y2="458.5" stroke="#1a1a1a" stroke-width="1.3" />
<line x1="344.4" y1="445.5" x2="350.2" y2="445.5" stroke="#1a1a1a" stroke-width="1.3" />
<line x1="344.4" y1="458.5" x2="350.2" y2="458.5" stroke="#1a1a1a" stroke-width="1.3" />
<line x1="347.3" y1="469.2" x2="347.3" y2="492.9" stroke="#1a1a1a" stroke-width="1.3" />
<line x1="344.4" y1="469.2" x2="350.2" y2="469.2" stroke="#1a1a1a" stroke-width="1.3" />
<line x1="344.4" y1="492.9" x2="350.2" y2="492.9" stroke="#1a1a1a" stroke-width="1.3" />
<line x1="382.7" y1="419.6" x2="382.7" y2="441.6" stroke="#1a1a1a" stroke-width="1.3" />
<line x1="379.8" y1="419.6" x2="385.6" y2="419.6" stroke="#1a1a1a" stroke-width="1.3" />
<line x1="379.8" y1="441.6" x2="385.6" y2="441.6" stroke="#1a1a1a" stroke-width="1.3" />
<line x1="382.7" y1="430.1" x2="382.7" y2="465.5" stroke="#1a1a1a" stroke-width="1.3" />
<line x1="379.8" y1="430.1" x2="385.6" y2="430.1" stroke="#1a1a1a" stroke-width="1.3" />
<line x1="379.8" y1="465.5" x2="385.6" y2="465.5" stroke="#1a1a1a" stroke-width="1.3" />
<line x1="382.7" y1="457.4" x2="382.7" y2="487.3" stroke="#1a1a1a" stroke-width="1.3" />
<line x1="379.8" y1="457.4" x2="385.6" y2="457.4" stroke="#1a1a1a" stroke-width="1.3" />
<line x1="379.8" y1="487.3" x2="385.6" y2="487.3" stroke="#1a1a1a" stroke-width="1.3" />
<line x1="418.2" y1="404.6" x2="418.2" y2="423.6" stroke="#1a1a1a" stroke-width="1.3" />
<line x1="415.3" y1="404.6" x2="421.1" y2="404.6" stroke="#1a1a1a" stroke-width="1.3" />
<line x1="415.3" y1="423.6" x2="421.1" y2="423.6" stroke="#1a1a1a" stroke-width="1.3" />
<line x1="418.2" y1="415.7" x2="418.2" y2="436.1" stroke="#1a1a1a" stroke-width="1.3" />
<line x1="415.3" y1="415.7" x2="421.1" y2="415.7" stroke="#1a1a1a" stroke-width="1.3" />
<line x1="415.3" y1="436.1" x2="421.1" y2="436.1" stroke="#1a1a1a" stroke-width="1.3" />
<line x1="418.2" y1="444.7" x2="418.2" y2="490" stroke="#1a1a1a" stroke-width="1.3" />
<line x1="415.3" y1="444.7" x2="421.1" y2="444.7" stroke="#1a1a1a" stroke-width="1.3" />
<line x1="415.3" y1="490" x2="421.1" y2="490" stroke="#1a1a1a" stroke-width="1.3" />
<polyline points="276.4,493.8 311.9,489.8 347.3,482.4 382.7,473 418.2,468" fill="none" stroke="#1a1a1a" stroke-width="1.3" stroke-dasharray="2 1.5"/>
<polyline points="276.4,467 311.9,446.6 347.3,446.4 382.7,447.8 418.2,425.9" fill="none" stroke="#1a1a1a" stroke-width="1.3" stroke-dasharray="3.8 2.1"/>
<polyline points="276.4,467.2 311.9,464.4 347.3,451.9 382.7,430.3 418.2,414.1" fill="none" stroke="#1a1a1a" stroke-width="1.3" />
<circle cx="276.4" cy="467.2" r="2.2" fill="#1a1a1a"/>
<circle cx="311.9" cy="464.4" r="2.2" fill="#1a1a1a"/>
<circle cx="347.3" cy="451.9" r="2.2" fill="#1a1a1a"/>
<circle cx="382.7" cy="430.3" r="2.2" fill="#1a1a1a"/>
<circle cx="418.2" cy="414.1" r="2.2" fill="#1a1a1a"/>
<rect x="274.15" y="464.75" width="4.5" height="4.5" fill="#fff" stroke="#1a1a1a" stroke-width="1.4"/>
<rect x="309.65" y="444.35" width="4.5" height="4.5" fill="#fff" stroke="#1a1a1a" stroke-width="1.4"/>
<rect x="345.05" y="444.15" width="4.5" height="4.5" fill="#fff" stroke="#1a1a1a" stroke-width="1.4"/>
<rect x="380.45" y="445.55" width="4.5" height="4.5" fill="#fff" stroke="#1a1a1a" stroke-width="1.4"/>
<rect x="415.95" y="423.65" width="4.5" height="4.5" fill="#fff" stroke="#1a1a1a" stroke-width="1.4"/>
<path d="M276.4 491.49 L278.8 495.69 L274 495.69 Z" fill="#fff" stroke="#1a1a1a" stroke-width="1.35" stroke-linejoin="miter"/>
<path d="M311.9 487.49 L314.3 491.69 L309.5 491.69 Z" fill="#fff" stroke="#1a1a1a" stroke-width="1.35" stroke-linejoin="miter"/>
<path d="M347.3 480.09 L349.7 484.29 L344.9 484.29 Z" fill="#fff" stroke="#1a1a1a" stroke-width="1.35" stroke-linejoin="miter"/>
<path d="M382.7 470.69 L385.1 474.89 L380.3 474.89 Z" fill="#fff" stroke="#1a1a1a" stroke-width="1.35" stroke-linejoin="miter"/>
<path d="M418.2 465.69 L420.6 469.89 L415.8 469.89 Z" fill="#fff" stroke="#1a1a1a" stroke-width="1.35" stroke-linejoin="miter"/>
<path d="M353.7 489.14L353.7 484.46M351.32 488.18L356.08 485.43M351.32 485.43L356.08 488.18" stroke="#555" stroke-width="1.3" stroke-linecap="round" fill="none"/>
<path d="M389.9 482.24L389.9 477.56M387.52 481.27L392.28 478.52M387.52 478.52L392.28 481.27" stroke="#555" stroke-width="1.3" stroke-linecap="round" fill="none"/>
<line x1="437.8" y1="403.5" x2="466.3" y2="403.5" stroke="#1a1a1a" stroke-width="1.3" />
<circle cx="451.6" cy="403.5" r="2.5" fill="#1a1a1a"/>
<line x1="437.8" y1="422" x2="441.3" y2="422" stroke="#1a1a1a" stroke-width="1.4" />
<line x1="444.6" y1="422" x2="447.6" y2="422" stroke="#1a1a1a" stroke-width="1.4" />
<line x1="455.8" y1="422" x2="458.8" y2="422" stroke="#1a1a1a" stroke-width="1.4" />
<line x1="462.6" y1="422" x2="466.3" y2="422" stroke="#1a1a1a" stroke-width="1.4" />
<rect x="449.3" y="419.7" width="4.6" height="4.6" fill="#fff" stroke="#1a1a1a" stroke-width="1.4"/>
<line x1="437.8" y1="440.3" x2="466.3" y2="440.3" stroke="#777" stroke-width="1.0" stroke-dasharray="1 0.8"/>
<path d="M451.6 438.16 L453.9 442.06 L449.3 442.06 Z" fill="#fff" stroke="#1a1a1a" stroke-width="1.35" stroke-linejoin="miter"/>
<text x="480.6" y="407.9" font-size="12.2" font-weight="normal" text-anchor="start" fill="#111" >HC</text>
<text x="480.6" y="425.8" font-size="12.2" font-weight="normal" text-anchor="start" fill="#111" >HBe<tspan font-size="8.3" dy="-4.1">neg</tspan></text>
<text x="480.6" y="443.9" font-size="12.2" font-weight="normal" text-anchor="start" fill="#111" >HBe<tspan font-size="8.3" dy="-4.1">pos</tspan></text>
<line x1="48.3" y1="575.8" x2="48.3" y2="753.9" stroke="#2a2a2a" stroke-width="1.3" />
<line x1="45.6" y1="753.3" x2="48.3" y2="753.3" stroke="#2a2a2a" stroke-width="1.2" />
<text x="43.6" y="757.2" font-size="11" font-weight="normal" text-anchor="end" fill="#161616" >0.0</text>
<line x1="45.6" y1="723.8" x2="48.3" y2="723.8" stroke="#2a2a2a" stroke-width="1.2" />
<text x="43.6" y="727.7" font-size="11" font-weight="normal" text-anchor="end" fill="#161616" >0.1</text>
<line x1="45.6" y1="694.3" x2="48.3" y2="694.3" stroke="#2a2a2a" stroke-width="1.2" />
<text x="43.6" y="698.2" font-size="11" font-weight="normal" text-anchor="end" fill="#161616" >0.2</text>
<line x1="45.6" y1="664.8" x2="48.3" y2="664.8" stroke="#2a2a2a" stroke-width="1.2" />
<text x="43.6" y="668.7" font-size="11" font-weight="normal" text-anchor="end" fill="#161616" >0.3</text>
<line x1="45.6" y1="635.3" x2="48.3" y2="635.3" stroke="#2a2a2a" stroke-width="1.2" />
<text x="43.6" y="639.2" font-size="11" font-weight="normal" text-anchor="end" fill="#161616" >0.4</text>
<line x1="45.6" y1="605.8" x2="48.3" y2="605.8" stroke="#2a2a2a" stroke-width="1.2" />
<text x="43.6" y="609.7" font-size="11" font-weight="normal" text-anchor="end" fill="#161616" >0.5</text>
<line x1="45.6" y1="576.3" x2="48.3" y2="576.3" stroke="#2a2a2a" stroke-width="1.2" />
<text x="43.6" y="580.2" font-size="11" font-weight="normal" text-anchor="end" fill="#161616" >0.6</text>
<line x1="47.7" y1="753.3" x2="225.9" y2="753.3" stroke="#2a2a2a" stroke-width="1.3" />
<line x1="48.3" y1="753.3" x2="48.3" y2="756.8" stroke="#2a2a2a" stroke-width="1.2" />
<text x="48.3" y="768.5" font-size="11" font-weight="normal" text-anchor="middle" fill="#161616" >0</text>
<line x1="92.56" y1="753.3" x2="92.56" y2="756.8" stroke="#2a2a2a" stroke-width="1.2" />
<text x="92.56" y="768.5" font-size="11" font-weight="normal" text-anchor="middle" fill="#161616" >20</text>
<line x1="136.82" y1="753.3" x2="136.82" y2="756.8" stroke="#2a2a2a" stroke-width="1.2" />
<text x="136.82" y="768.5" font-size="11" font-weight="normal" text-anchor="middle" fill="#161616" >40</text>
<line x1="181.08" y1="753.3" x2="181.08" y2="756.8" stroke="#2a2a2a" stroke-width="1.2" />
<text x="181.08" y="768.5" font-size="11" font-weight="normal" text-anchor="middle" fill="#161616" >60</text>
<line x1="225.34" y1="753.3" x2="225.34" y2="756.8" stroke="#2a2a2a" stroke-width="1.2" />
<text x="225.34" y="768.5" font-size="11" font-weight="normal" text-anchor="middle" fill="#161616" >80</text>
<text x="136.3" y="576.2" font-size="15.5" font-weight="bold" text-anchor="middle" fill="#111" >Medium</text>
<text x="0" y="0" font-size="13.8" font-weight="bold" text-anchor="middle" fill="#111" transform="translate(14.8 663.5) rotate(-90)">pDC (%)</text>
<text x="137.3" y="793.2" font-size="14" font-weight="bold" text-anchor="middle" fill="#111" >p-S6<tspan font-size="9" dy="-6.6">+</tspan><tspan dy="6.6"> (%)</tspan></text>
<circle cx="108.1" cy="676.6" r="2.4" fill="#1a1a1a"/>
<circle cx="135.8" cy="655.5" r="2.4" fill="#1a1a1a"/>
<circle cx="142" cy="647.1" r="2.4" fill="#1a1a1a"/>
<circle cx="144" cy="647.1" r="2.4" fill="#1a1a1a"/>
<circle cx="146.4" cy="658.7" r="2.4" fill="#1a1a1a"/>
<circle cx="162.7" cy="679.6" r="2.4" fill="#1a1a1a"/>
<circle cx="166.1" cy="630.7" r="2.4" fill="#1a1a1a"/>
<circle cx="201.6" cy="664.5" r="2.4" fill="#1a1a1a"/>
<path d="M79.5 677.84 L82 682.13 L77 682.13 Z" fill="#fff" stroke="#1a1a1a" stroke-width="1.3" stroke-linejoin="miter"/>
<path d="M112.9 662.74 L115.4 667.03 L110.4 667.03 Z" fill="#fff" stroke="#1a1a1a" stroke-width="1.3" stroke-linejoin="miter"/>
<path d="M122.2 676.43 L124.7 680.73 L119.7 680.73 Z" fill="#fff" stroke="#1a1a1a" stroke-width="1.3" stroke-linejoin="miter"/>
<path d="M125.8 695.24 L128.3 699.53 L123.3 699.53 Z" fill="#fff" stroke="#1a1a1a" stroke-width="1.3" stroke-linejoin="miter"/>
<path d="M134.2 694.43 L136.7 698.73 L131.7 698.73 Z" fill="#fff" stroke="#1a1a1a" stroke-width="1.3" stroke-linejoin="miter"/>
<path d="M150.5 703.84 L153 708.13 L148 708.13 Z" fill="#fff" stroke="#1a1a1a" stroke-width="1.3" stroke-linejoin="miter"/>
<path d="M174.5 621.63 L177 625.93 L172 625.93 Z" fill="#fff" stroke="#1a1a1a" stroke-width="1.3" stroke-linejoin="miter"/>
<rect x="86.35" y="695.25" width="4.7" height="4.7" fill="#fff" stroke="#1a1a1a" stroke-width="1.3"/>
<rect x="111.75" y="682.25" width="4.7" height="4.7" fill="#fff" stroke="#1a1a1a" stroke-width="1.3"/>
<rect x="137.65" y="709.45" width="4.7" height="4.7" fill="#fff" stroke="#1a1a1a" stroke-width="1.3"/>
<rect x="155.35" y="697.45" width="4.7" height="4.7" fill="#fff" stroke="#1a1a1a" stroke-width="1.3"/>
<rect x="159.75" y="665.35" width="4.7" height="4.7" fill="#fff" stroke="#1a1a1a" stroke-width="1.3"/>
<rect x="165.75" y="615.25" width="4.7" height="4.7" fill="#fff" stroke="#1a1a1a" stroke-width="1.3"/>
<rect x="183.75" y="644.75" width="4.7" height="4.7" fill="#fff" stroke="#1a1a1a" stroke-width="1.3"/>
<rect x="186.15" y="663.15" width="4.7" height="4.7" fill="#fff" stroke="#1a1a1a" stroke-width="1.3"/>
<path d="M88.7 696.25 L90.4 699.25 L87 699.25 Z" fill="#fff" stroke="#1a1a1a" stroke-width="1.1" stroke-linejoin="miter"/>
<circle cx="256.9" cy="631.9" r="2.4" fill="#1a1a1a"/>
<rect x="254.7" y="647.6" width="4.4" height="4.4" fill="#fff" stroke="#1a1a1a" stroke-width="1.3"/>
<path d="M256.9 665.45 L259.3 669.55 L254.5 669.55 Z" fill="#fff" stroke="#1a1a1a" stroke-width="1.3" stroke-linejoin="miter"/>
<text x="267.4" y="636.4" font-size="12.4" font-weight="normal" text-anchor="start" fill="#111" >HC</text>
<text x="267.4" y="654.3" font-size="12.4" font-weight="normal" text-anchor="start" fill="#111" >HBe<tspan font-size="8.6" dy="-4.6">neg</tspan></text>
<text x="267.4" y="672" font-size="12.4" font-weight="normal" text-anchor="start" fill="#111" >HBe<tspan font-size="8.6" dy="-4.6">pos</tspan></text>
<text x="252.4" y="708.8" font-size="12.4" font-weight="bold" text-anchor="start" font-style="italic" fill="#111" stroke="#111" stroke-width="0.3">r<tspan font-size="8.6" dy="3.2">p</tspan><tspan dy="-3.2"> = 0.47</tspan></text>
<text x="252.4" y="727.2" font-size="12.4" font-weight="bold" text-anchor="start" font-style="italic" fill="#111" stroke="#111" stroke-width="0.3">p &lt; 0.05</text>
</svg></body></html>
